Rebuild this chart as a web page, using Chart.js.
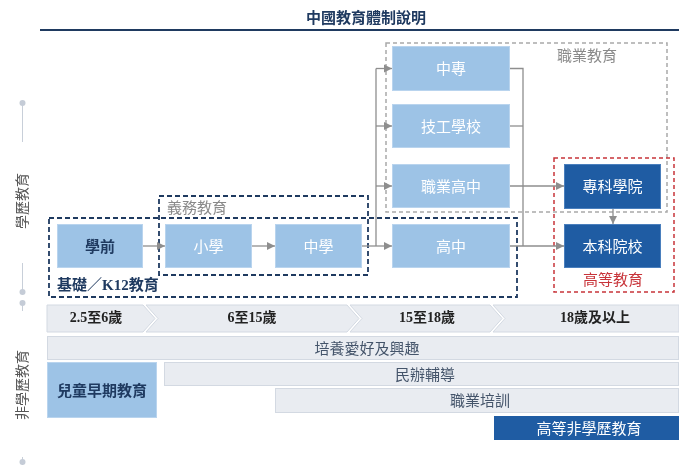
<!DOCTYPE html>
<html><head><meta charset="utf-8">
<script src="https://cdn.jsdelivr.net/npm/chart.js@4.4.0/dist/chart.umd.min.js"></script>
<style>html,body{margin:0;padding:0;background:#fff}#wrap{width:679px;height:465px;position:relative}</style>
</head><body><div id="wrap"><canvas id="c"></canvas></div>
<script>
// ---- content (text/categories) ----
const title = '中國教育體制說明';
const sideLabels = ['學歷教育', '非學歷教育'];
const foundationStages = ['學前', '小學', '中學', '高中'];
const vocationalStages = ['中專', '技工學校', '職業高中'];
const higherStages = ['專科學院', '本科院校'];
const groupLabels = ['基礎／K12教育', '義務教育', '職業教育', '高等教育'];
const ageBands = ['2.5至6歲', '6至15歲', '15至18歲', '18歲及以上'];
const nonFormalPrograms = ['培養愛好及興趣', '兒童早期教育', '民辦輔導', '職業培訓', '高等非學歷教育'];

// ---- layout (diagram units on the chart's linear scales) ----
const boxRects = {
  '學前': [57, 224, 143, 268], '小學': [165, 224, 252, 268], '中學': [275, 224, 362, 268],
  '高中': [392, 224, 510, 268], '中專': [392, 46, 510, 91], '技工學校': [392, 104, 510, 148],
  '職業高中': [392, 164, 510, 208], '專科學院': [564, 164, 661, 209], '本科院校': [564, 224, 661, 268]
};
const groupRects = {
  '基礎／K12教育': [49, 218, 517, 297], '義務教育': [159, 196, 368, 275],
  '職業教育': [386, 43, 667, 212], '高等教育': [554, 158, 674, 292]
};
const groupLabelPos = {
  '基礎／K12教育': [57, 286, 'left'], '義務教育': [167, 207, 'left'],
  '職業教育': [587, 55, 'center'], '高等教育': [613, 279, 'center']
};
const ageSegs = [[47, 143, 0], [146, 347, 1], [350, 490, 1], [493, 679, 1]];
const ageTextX = [96, 252, 427, 595];
const nfRects = {
  '培養愛好及興趣': [47, 336, 679, 360, 367], '兒童早期教育': [47, 362, 157, 418, 102],
  '民辦輔導': [164, 362, 679, 386, 425], '職業培訓': [275, 388, 679, 413, 480],
  '高等非學歷教育': [494, 416, 679, 440, 589]
};

const C_LIGHT = '#9dc3e6', C_DARK = '#1f5ca3', C_NAVY = '#1f3a60', C_ARROW = '#8e8e8e';
const C_PALE = '#e9ecf1', C_PALE_B = '#d3d9e2';
const SANS = '"Noto Sans CJK TC", "Noto Sans", sans-serif';
const SERIF = '"Liberation Serif", "Noto Sans CJK TC", serif';

const diagramPlugin = {
  id: 'diagram',
  afterDraw(chart) {
    const ctx = chart.ctx, xs = chart.scales.x, ys = chart.scales.y;
    const px = v => xs.getPixelForValue(v), py = v => ys.getPixelForValue(v);
    const text = (t, x, y, font, color, align) => {
      ctx.save(); ctx.font = font; ctx.fillStyle = color; ctx.textAlign = align || 'center';
      ctx.textBaseline = 'middle'; ctx.fillText(t, px(x), py(y)); ctx.restore();
    };
    const rect = (r, fill, stroke) => {
      const x0 = px(r[0]), y0 = py(r[1]), w = px(r[2]) - x0, h = py(r[3]) - y0;
      ctx.save();
      if (fill) { ctx.fillStyle = fill; ctx.fillRect(x0, y0, w, h); }
      if (stroke) { ctx.strokeStyle = stroke; ctx.lineWidth = 1; ctx.strokeRect(x0 + 0.5, y0 + 0.5, w - 1, h - 1); }
      ctx.restore();
    };
    const dashRect = (r, color, lw, dash) => {
      ctx.save(); ctx.strokeStyle = color; ctx.lineWidth = lw; ctx.setLineDash(dash);
      ctx.strokeRect(px(r[0]), py(r[1]), px(r[2]) - px(r[0]), py(r[3]) - py(r[1])); ctx.restore();
    };
    const line = (pts) => {
      ctx.save(); ctx.strokeStyle = C_ARROW; ctx.lineWidth = 1.3; ctx.beginPath();
      pts.forEach((p, i) => i ? ctx.lineTo(px(p[0]), py(p[1])) : ctx.moveTo(px(p[0]), py(p[1])));
      ctx.stroke(); ctx.restore();
    };
    const arrow = (a, b) => {
      line([a, b]);
      const x1 = px(b[0]), y1 = py(b[1]), x0 = px(a[0]), y0 = py(a[1]);
      const ang = Math.atan2(y1 - y0, x1 - x0), L = 8, W = 4;
      ctx.save(); ctx.fillStyle = C_ARROW; ctx.beginPath();
      ctx.moveTo(x1, y1);
      ctx.lineTo(x1 - L * Math.cos(ang) + W * Math.sin(ang), y1 - L * Math.sin(ang) - W * Math.cos(ang));
      ctx.lineTo(x1 - L * Math.cos(ang) - W * Math.sin(ang), y1 - L * Math.sin(ang) + W * Math.cos(ang));
      ctx.closePath(); ctx.fill(); ctx.restore();
    };

    // title + rule
    text(title, 366, 17, 'bold 15px ' + SANS, C_NAVY);
    ctx.save(); ctx.strokeStyle = C_NAVY; ctx.lineWidth = 2; ctx.beginPath();
    ctx.moveTo(px(40), py(30)); ctx.lineTo(px(679), py(30)); ctx.stroke(); ctx.restore();

    // side decorations
    const sideLine = (a, b) => { ctx.save(); ctx.strokeStyle = '#c8cfd9'; ctx.lineWidth = 1; ctx.beginPath();
      ctx.moveTo(px(22.5), py(a)); ctx.lineTo(px(22.5), py(b)); ctx.stroke(); ctx.restore(); };
    const dot = (y) => { ctx.save(); ctx.fillStyle = '#c5ccd7'; ctx.beginPath();
      ctx.arc(px(22.5), py(y), 3, 0, Math.PI * 2); ctx.fill(); ctx.restore(); };
    sideLine(103, 142); dot(103); sideLine(263, 292); dot(292); sideLine(303, 311); dot(303);
    sideLine(457, 465); dot(462);
    const vtext = (t, x, y) => { ctx.save(); ctx.translate(px(x), py(y)); ctx.rotate(-Math.PI / 2);
      ctx.font = '14px ' + SANS; ctx.fillStyle = '#555'; ctx.textAlign = 'center'; ctx.textBaseline = 'middle';
      ctx.fillText(t, 0, 0); ctx.restore(); };
    vtext(sideLabels[0], 22, 201); vtext(sideLabels[1], 22, 385);

    // group dashed boxes
    dashRect(groupRects[groupLabels[2]], '#a9a9a9', 1.5, [4, 3]);
    dashRect(groupRects[groupLabels[0]], C_NAVY, 1.8, [5, 3]);
    dashRect(groupRects[groupLabels[1]], C_NAVY, 1.8, [5, 3]);
    dashRect(groupRects[groupLabels[3]], '#c8343a', 1.5, [4, 3]);

    // connectors
    arrow([143, 246], [165, 246]);
    arrow([252, 246], [275, 246]);
    line([[362, 246], [376, 246]]);
    line([[376, 68.5], [376, 246]]);
    [68.5, 126, 186, 246].forEach(y => arrow([376, y], [392, y]));
    line([[510, 68.5], [523, 68.5], [523, 246]]);
    line([[510, 126], [523, 126]]);
    arrow([510, 246], [564, 246]);
    arrow([510, 186], [564, 186]);
    arrow([613, 209], [613, 224]);

    // stage boxes
    const allStages = foundationStages.concat(vocationalStages);
    allStages.forEach(s => {
      const r = boxRects[s]; rect(r, C_LIGHT, '#b9d4ee');
      const cx = (r[0] + r[2]) / 2, cy = (r[1] + r[3]) / 2;
      if (s === foundationStages[0]) text(s, cx, cy, 'bold 15px ' + SANS, C_NAVY);
      else text(s, cx, cy, '15px ' + SANS, '#ffffff');
    });
    higherStages.forEach(s => {
      const r = boxRects[s]; rect(r, C_DARK, '#4a7fbd');
      text(s, (r[0] + r[2]) / 2, (r[1] + r[3]) / 2, '15px ' + SANS, '#ffffff');
    });

    // group labels
    text(groupLabels[0], groupLabelPos[groupLabels[0]][0], groupLabelPos[groupLabels[0]][1], 'bold 15px ' + SERIF, C_NAVY, 'left');
    text(groupLabels[1], 167, 207, '15px ' + SANS, '#8a8a8a', 'left');
    text(groupLabels[2], 587, 55, '15px ' + SANS, '#8a8a8a');
    text(groupLabels[3], 613, 279, '15px ' + SANS, '#c8343a');

    // age chevrons
    const T = 305, B = 332, M = 318.5, D = 12;
    ageSegs.forEach((s, i) => {
      ctx.save(); ctx.fillStyle = C_PALE; ctx.strokeStyle = C_PALE_B; ctx.lineWidth = 1; ctx.beginPath();
      ctx.moveTo(px(s[0]), py(T)); ctx.lineTo(px(s[1]), py(T));
      if (i < ageSegs.length - 1) ctx.lineTo(px(s[1] + D), py(M));
      ctx.lineTo(px(s[1]), py(B)); ctx.lineTo(px(s[0]), py(B));
      if (s[2]) ctx.lineTo(px(s[0] + D), py(M));
      ctx.closePath(); ctx.fill(); ctx.stroke(); ctx.restore();
      text(ageBands[i], ageTextX[i], 318, 'bold 14px ' + SERIF, '#222');
    });

    // non-formal rows
    nonFormalPrograms.forEach((p, i) => {
      const r = nfRects[p];
      const cy = (r[1] + r[3]) / 2;
      if (i === 1) { rect(r, C_LIGHT, '#b9d4ee'); text(p, r[4], cy, 'bold 15px ' + SANS, C_NAVY); }
      else if (i === 4) { rect(r, C_DARK, null); text(p, r[4], cy, '15px ' + SANS, '#ffffff'); }
      else { rect(r, C_PALE, C_PALE_B); text(p, r[4], cy, '15px ' + SANS, '#44546a'); }
    });
  }
};

const chart = new Chart(document.getElementById('c'), {
  type: 'scatter',
  data: { datasets: [{ data: [], pointRadius: 0 }] },
  options: {
    responsive: true, maintainAspectRatio: false, animation: false, devicePixelRatio: 1,
    layout: { padding: 0 },
    plugins: { legend: { display: false }, tooltip: { enabled: false } },
    scales: {
      x: { type: 'linear', min: 0, max: 679, display: false },
      y: { type: 'linear', min: 0, max: 465, reverse: true, display: false }
    }
  },
  plugins: [diagramPlugin]
});
</script></body></html>
